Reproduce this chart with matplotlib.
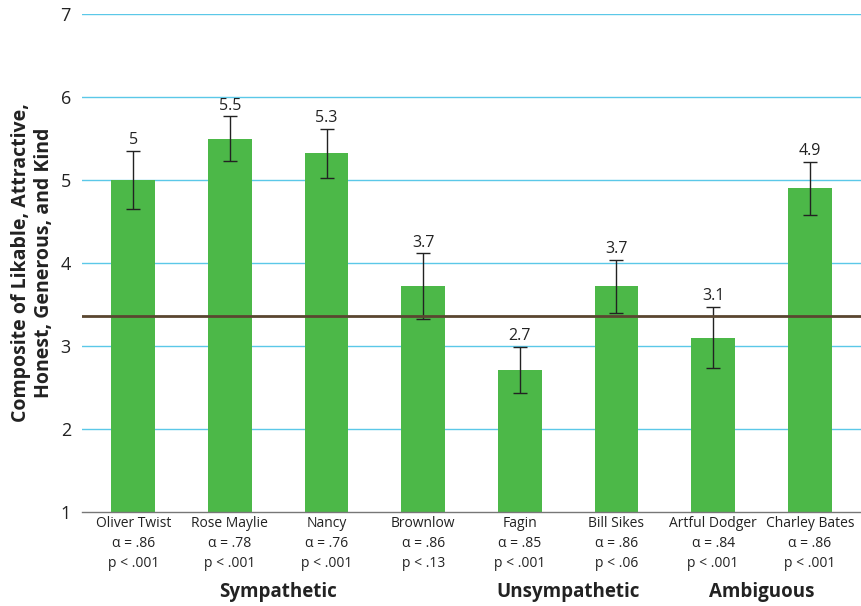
import matplotlib
matplotlib.use("Agg")
import matplotlib.pyplot as plt
import numpy as np

characters = ["Oliver Twist", "Rose Maylie", "Nancy", "Brownlow", "Fagin",
              "Bill Sikes", "Artful Dodger", "Charley Bates"]
alphas = [".86", ".78", ".76", ".86", ".85", ".86", ".84", ".86"]
pvals = ["< .001", "< .001", "< .001", "< .13", "< .001", "< .06", "< .001", "< .001"]
means = [5.0, 5.5, 5.32, 3.72, 2.71, 3.72, 3.1, 4.9]
errors = [0.35, 0.27, 0.30, 0.40, 0.28, 0.32, 0.37, 0.32]
value_labels = ["5", "5.5", "5.3", "3.7", "2.7", "3.7", "3.1", "4.9"]
reference_line = 3.36
groups = ["Sympathetic", "Unsympathetic", "Ambiguous"]
group_centers = [1.5, 4.5, 6.5]

plt.rcParams['font.family'] = ['Open Sans', 'DejaVu Sans']

fig = plt.figure(figsize=(8.61, 6.06), dpi=100)
ax = fig.add_axes([82/861, 1-512/606, 1-82/861, (512-14)/606])

x = np.arange(len(characters))
ax.set_ylim(1, 7)
ax.set_xlim(-0.53, 7.53)
for yv in range(2, 8):
    ax.axhline(yv, color="#5bc8e8", lw=1.0, zorder=0)

ax.bar(x, [m - 1 for m in means], bottom=1, width=0.45, color="#4cb848", zorder=2)
ax.errorbar(x, means, yerr=errors, fmt="none", ecolor="#222222", elinewidth=1.0,
            capsize=5, capthick=1.0, zorder=3)
ax.axhline(reference_line, color="#5a4630", lw=2.0, zorder=4)

for xi, m, e, lab in zip(x, means, errors, value_labels):
    ax.text(xi, m + e + 0.03, lab, ha="center", va="bottom", fontsize=11.5, color="#222222")

for s in ["top", "right", "left"]:
    ax.spines[s].set_visible(False)
ax.spines["bottom"].set_color("#777777")
ax.spines["bottom"].set_linewidth(1.0)

ax.set_yticks(range(1, 8))
ax.set_yticklabels([str(v) for v in range(1, 8)], fontsize=13, color="#222222")
ax.tick_params(axis="y", length=0, pad=8)
ax.tick_params(axis="x", length=0, pad=3)
ax.set_xticks(x)
ax.set_xticklabels([f"{c}\nα = {a}\np {p}" for c, a, p in zip(characters, alphas, pvals)],
                   fontsize=10, color="#222222", linespacing=1.45)

ax.set_ylabel("Composite of Likable, Attractive,\nHonest, Generous, and Kind",
              fontsize=14, fontweight="bold", color="#222222")
ax.yaxis.set_label_coords(-0.036, 0.50)

for g, gc in zip(groups, group_centers):
    ax.text(gc, -0.16, g, transform=ax.get_xaxis_transform(), ha="center", va="center",
            fontsize=13.5, fontweight="bold", color="#222222")

fig.savefig("out.png", dpi=100)
